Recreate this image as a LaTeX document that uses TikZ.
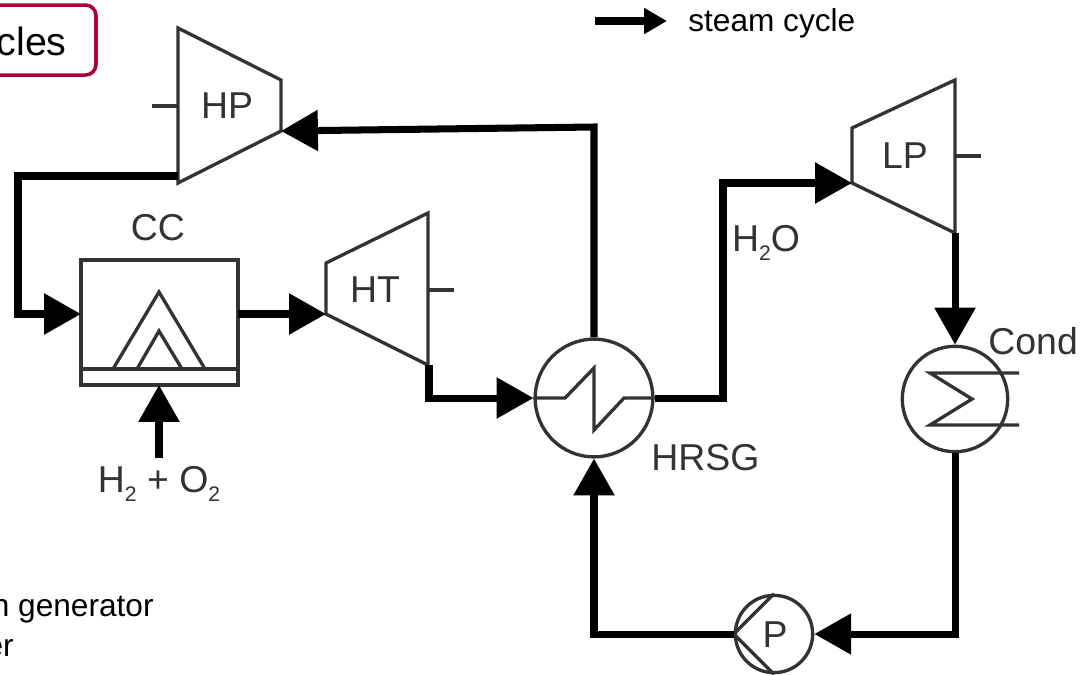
\documentclass[tikz,border=0pt]{standalone}
\usepackage{xcolor}
\usepackage{fontspec}
\setmainfont{Liberation Sans}
\usetikzlibrary{arrows.meta,positioning}
\definecolor{unitgray}{HTML}{333333}
\definecolor{framered}{HTML}{A50034}
\newcommand{\lowtwo}{\raisebox{-0.45ex}{\fontsize{12}{12}\selectfont 2}}
\tikzset{
    flow/.style={line width=4pt,-{Triangle[length=21pt,width=22.5pt]}},
    unit/.style={draw=unitgray,line width=1.9pt,line join=miter},
    vessel/.style={circle,draw=unitgray,line width=1.9pt,inner sep=0pt},
    lab/.style={text=unitgray,font=\fontsize{21.3}{25}\selectfont,inner sep=0pt},
    txt/.style={text=black,font=\fontsize{18}{22}\selectfont,inner sep=0pt}
}
\begin{document}
\begin{tikzpicture}[x=0.02cm,y=-0.02cm]
    \clip (0,0) rectangle (1084,674);

    % Title frame, cut by the page edge
    \draw[draw=framered,line width=2pt,rounded corners=6pt] (-140,5) rectangle (96,75);
    \node[anchor=base east,inner sep=0pt,font=\fontsize{22.4}{26}\selectfont] (title) at (67,55) {cles};

    % Legend
    \coordinate (legA) at (595,21);
    \coordinate (legB) at (667,21);
    \draw[line width=4pt,-{Triangle[length=13pt,width=14pt]}] (legA) -- (legB);
    \node[txt,anchor=west] (legtxt) at (688,23) {steam cycle};

    % Foot notes, cut by the page edge
    \node[txt,anchor=base east] (noteA) at (154,616) {n generator};
    \node[txt,anchor=base east] (noteB) at (14,656) {er};

    % Turbines
    \coordinate (hpIn) at (281,131);
    \coordinate (hpOut) at (178,176);
    \coordinate (htIn) at (326,314);
    \coordinate (htOut) at (429,365);
    \coordinate (lpIn) at (852,183);
    \coordinate (lpOut) at (955,233);
    \draw[unit] (178,28) -- (281,80) -- (281,131) -- (178,183) -- cycle;
    \draw[unit] (326,263) -- (428,213) -- (428,365) -- (326,314) -- cycle;
    \draw[unit] (852,128) -- (955,80) -- (955,233) -- (852,183) -- cycle;
    \draw[unit] (152,106) -- (178,106);
    \draw[unit] (428,290) -- (454,290);
    \draw[unit] (955,156) -- (981,156);
    \node[lab] (lblHP) at (227,106) {HP};
    \node[lab] (lblHT) at (375,290) {HT};
    \node[lab] (lblLP) at (905,156) {LP};

    % Combustion chamber
    \coordinate (ccIn) at (81,314);
    \coordinate (ccOut) at (238,314);
    \coordinate (ccBot) at (159,385);
    \coordinate (fuel) at (159,458);
    \draw[unit] (81,260) rectangle (238,385);
    \draw[unit] (81,369) -- (238,369);
    \draw[unit] (113,369) -- (159,292) -- (205,369);
    \draw[unit] (137,369) -- (159,331) -- (182,369);
    \node[lab] (lblCC) at (158,228) {CC};
    \node[lab] (lblFuel) at (159,484) {H\lowtwo{} + O\lowtwo};

    % Heat exchangers and pump
    \node[vessel,minimum size=67pt] (hrsg) at (594,398) {};
    \node[vessel,minimum size=60pt] (cond) at (955,399) {};
    \node[vessel,minimum size=44pt] (pump) at (774,634) {};
    \draw[unit] (hrsg.west) -- (565,398) -- (594,368) -- (594,430) -- (624,398) -- (hrsg.east);
    \draw[unit] (1019,373) -- (930,373) -- (972,399) -- (930,425) -- (1019,425);
    \draw[unit] (pump.north) -- (pump.west) -- (pump.south);
    \node[lab] (lblP) at (775,635) {P};
    \node[lab,anchor=west] (lblHRSG) at (651,458) {HRSG};
    \node[lab,anchor=west] (lblCond) at (988,341) {Cond};
    \node[lab] (lblH2O) at (766,243) {H\lowtwo O};

    % Flow lines
    \draw[flow] (hpOut) -- (18,176) |- (ccIn);
    \draw[flow] (ccOut) -- (htIn);
    \draw[flow] (htOut) |- (hrsg.west);
    \draw[flow] (fuel) -- (ccBot);
    \draw[flow] (hrsg.north) -- (594,127) -- (hpIn);
    \draw[flow] (hrsg.east) -- (723,398) |- (lpIn);
    \draw[flow] (lpOut) -- (cond.north);
    \draw[flow] (cond.south) |- (pump.east);
    \draw[flow] (pump.west) -| (hrsg.south);
\end{tikzpicture}
\end{document}
